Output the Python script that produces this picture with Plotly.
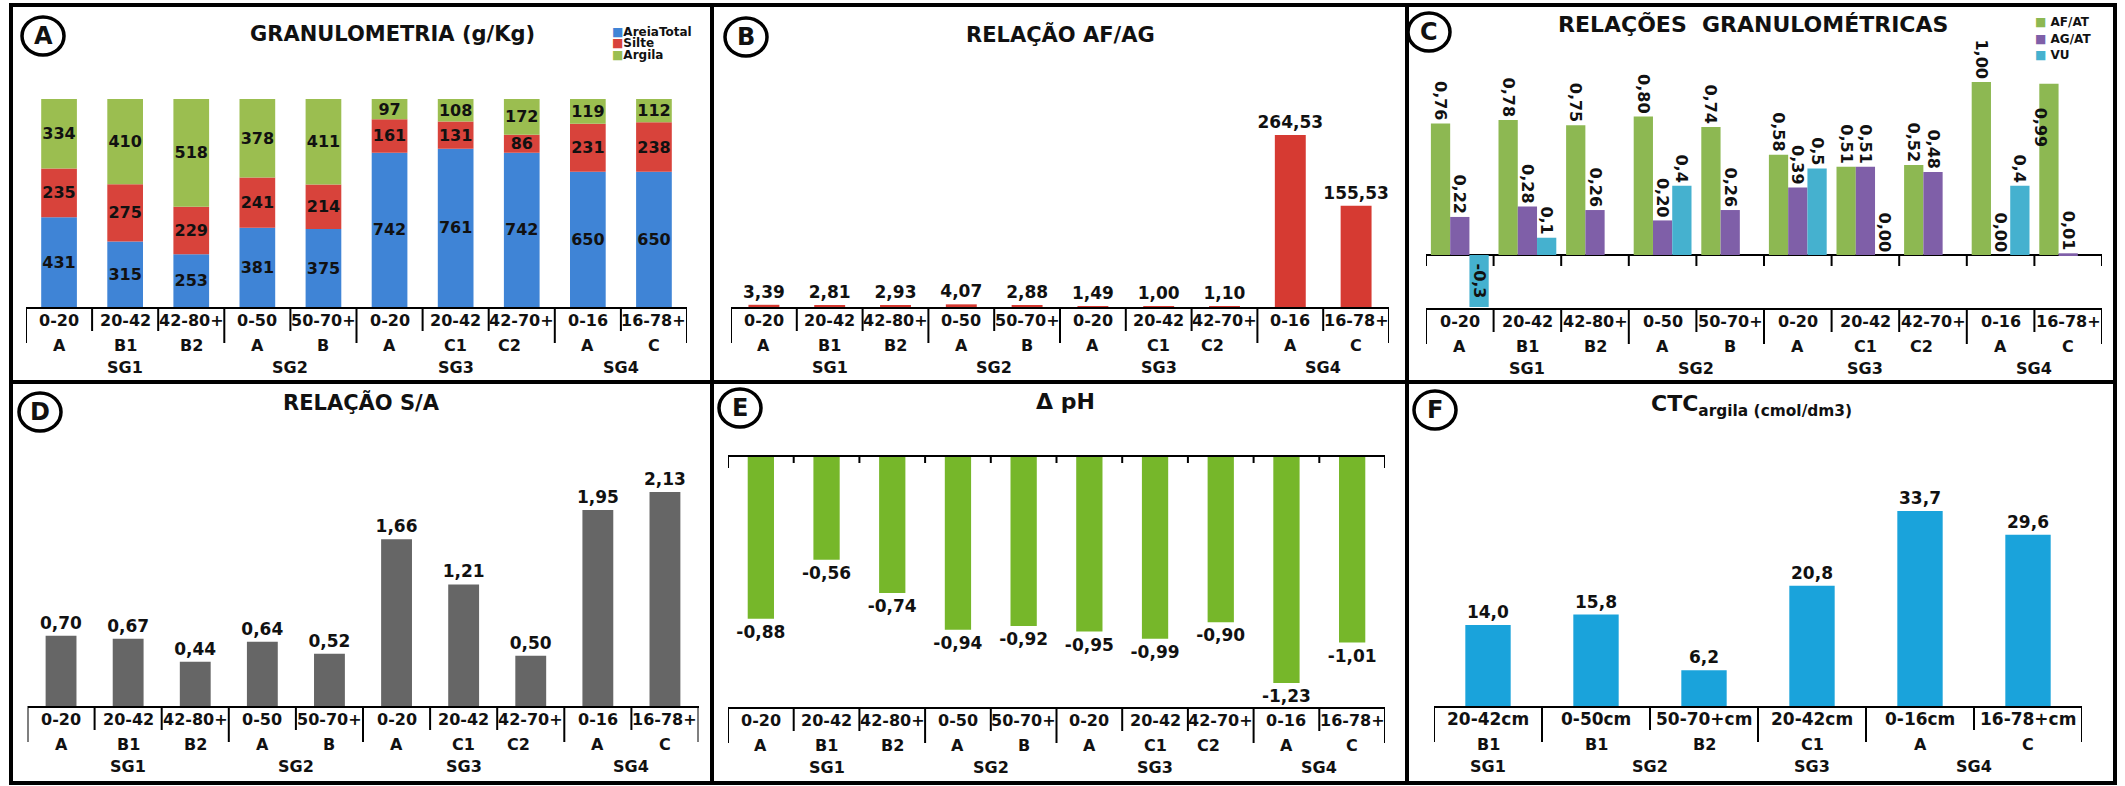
import plotly.graph_objects as go

W, H = 2125, 786
FONT = "DejaVu Sans"

# ---------------- data ----------------
depths = ["0-20", "20-42", "42-80+", "0-50", "50-70+", "0-20", "20-42", "42-70+", "0-16", "16-78+"]
horizons = ["A", "B1", "B2", "A", "B", "A", "C1", "C2", "A", "C"]
groups = ["SG1", "SG1", "SG1", "SG2", "SG2", "SG3", "SG3", "SG3", "SG4", "SG4"]

# A - granulometria (g/kg)
areia_total = [431, 315, 253, 381, 375, 742, 761, 742, 650, 650]
silte = [235, 275, 229, 241, 214, 161, 131, 86, 231, 238]
argila = [334, 410, 518, 378, 411, 97, 108, 172, 119, 112]

# B - relação AF/AG
af_ag = [3.39, 2.81, 2.93, 4.07, 2.88, 1.49, 1.00, 1.10, 264.53, 155.53]

# C - relações granulométricas
af_at = [0.76, 0.78, 0.75, 0.80, 0.74, 0.58, 0.51, 0.52, 1.00, 0.99]
ag_at = [0.22, 0.28, 0.26, 0.20, 0.26, 0.39, 0.51, 0.48, 0.00, 0.01]
vu = [-0.3, 0.1, None, 0.4, None, 0.5, 0.0, None, 0.4, None]
vu_labels = ["-0,3", "0,1", "", "0,4", "", "0,5", "0,00", "", "0,4", ""]

# D - relação S/A
silte_argila = [0.70, 0.67, 0.44, 0.64, 0.52, 1.66, 1.21, 0.50, 1.95, 2.13]

# E - delta pH
delta_ph = [-0.88, -0.56, -0.74, -0.94, -0.92, -0.95, -0.99, -0.90, -1.23, -1.01]

# F - CTC da argila
ctc_depths = ["20-42cm", "0-50cm", "50-70+cm", "20-42cm", "0-16cm", "16-78+cm"]
ctc_horizons = ["B1", "B1", "B2", "C1", "A", "C"]
ctc_groups = ["SG1", "SG2", "SG2", "SG3", "SG4", "SG4"]
ctc_argila = [14.0, 15.8, 6.2, 20.8, 33.7, 29.6]

# ---------------- colours ----------------
BLUE, RED, GREEN = "#3F84D6", "#D8433B", "#9BBE50"
RED_B = "#D63A32"
C_GREEN, C_PURPLE, C_CYAN = "#8DB852", "#7F5FA8", "#45B1CF"
GRAY = "#666666"
E_GREEN = "#76B72A"
F_CYAN = "#1AA3DB"


def px_x(p):
    return p / W


def px_y(p):
    return 1 - p / H


# panel geometry in page pixels: x span, y span (top, bottom) and value range
panels = {
    "A": dict(ax="", x=(26, 687), y=(80, 307), yr=(0, 1091.3), n=len(depths)),
    "B": dict(ax="2", x=(731, 1389), y=(80, 307), yr=(0, 349.1), n=len(depths)),
    "C": dict(ax="3", x=(1426, 2102), y=(70, 308), yr=(-0.306, 1.069), n=len(depths)),
    "D": dict(ax="4", x=(27.5, 698.5), y=(470, 706), yr=(0, 2.349), n=len(depths)),
    "E": dict(ax="5", x=(728, 1385), y=(457, 707), yr=(-1.361, 0), n=len(depths)),
    "F": dict(ax="6", x=(1434, 2082), y=(470, 706), yr=(0, 40.79), n=len(ctc_depths)),
}

fig = go.Figure()

bold = dict(family=FONT, color="#111111", weight="bold")


def bar(ax, x, y, color, width, **kw):
    opts = dict(
        x=x, y=y, width=width, marker=dict(color=color, line=dict(width=0)),
        xaxis="x" + ax, yaxis="y" + ax, showlegend=False, hoverinfo="skip",
        constraintext="none", cliponaxis=False,
        textfont=dict(bold, size=kw.pop("fontsize", 17)),
    )
    opts.update(kw)
    fig.add_trace(go.Bar(**opts))


idx = list(range(len(depths)))
cidx = list(range(len(ctc_depths)))

# A: stacked composition
base_silte = areia_total
base_argila = [a + s for a, s in zip(areia_total, silte)]
for vals, base, col in [(areia_total, None, BLUE), (silte, base_silte, RED), (argila, base_argila, GREEN)]:
    bar("", idx, vals, col, 0.54, base=base, texttemplate="%{y}", textposition="inside",
        insidetextanchor="middle", textangle=0, fontsize=16)

# B
bar("2", idx, af_ag, RED_B, 0.47, texttemplate="%{y:.2f}", textposition="outside", textangle=0)

# C: three series side by side
bw = 0.285
pos_af = ["outside"] * (len(af_at) - 1) + ["none"]
bar("3", idx, af_at, C_GREEN, bw, offset=-1.5 * bw, texttemplate="%{y:.2f}",
    textposition=pos_af, textangle=90, fontsize=16)
bar("3", idx, ag_at, C_PURPLE, bw, offset=-0.5 * bw, texttemplate="%{y:.2f}",
    textposition="outside", textangle=90, fontsize=16)
pos_vu = ["none" if v is None else ("inside" if v < 0 else "outside") for v in vu]
bar("3", idx, vu, C_CYAN, bw, offset=0.5 * bw, text=vu_labels, texttemplate="%{text}",
    textposition=pos_vu, insidetextanchor="middle", textangle=90, fontsize=16)

# D
bar("4", idx, silte_argila, GRAY, 0.46, texttemplate="%{y:.2f}", textposition="outside", textangle=0)

# E
bar("5", idx, delta_ph, E_GREEN, 0.40, texttemplate="%{y:.2f}", textposition="outside", textangle=0)

# F
bar("6", cidx, ctc_argila, F_CYAN, 0.42, texttemplate="%{y:.1f}", textposition="outside", textangle=0)

# ---------------- axes ----------------
layout_axes = {}
for key, p in panels.items():
    ax = p["ax"]
    layout_axes["xaxis" + ax] = dict(
        domain=[px_x(p["x"][0]), px_x(p["x"][1])], range=[-0.5, p["n"] - 0.5],
        anchor="y" + ax, showgrid=False, zeroline=False, showticklabels=False, ticks="",
        showline=True, linecolor="black", linewidth=2, mirror=(key == "E"), fixedrange=True,
    )
    layout_axes["yaxis" + ax] = dict(
        domain=[px_y(p["y"][1]), px_y(p["y"][0])], range=list(p["yr"]), anchor="x" + ax,
        showgrid=False, showticklabels=False, ticks="", showline=False,
        zeroline=(key == "C"), zerolinecolor="black", zerolinewidth=2, fixedrange=True,
    )

shapes = []
annotations = []

ROW1, ROW2, ROW3 = 13, 38, 60
SHORT, LONG = 24, 36


def category_table(key, cats, hors, grps, row1_size=16, shift=None):
    p = panels[key]
    ax = p["ax"]
    top = p["y"][1]
    n = len(cats)
    for i in range(n + 1):
        edge = i == 0 or i == n or grps[i] != grps[i - 1]
        ln = LONG if edge else SHORT
        shapes.append(dict(type="line", xref="x" + ax, yref="paper", x0=i - 0.5, x1=i - 0.5,
                           y0=px_y(top), y1=px_y(top + ln), line=dict(color="black", width=2)))
    for i in range(n):
        annotations.append(dict(xref="x" + ax, yref="paper", x=i, y=px_y(top + ROW1),
                                text=cats[i], showarrow=False, yanchor="middle",
                                font=dict(bold, size=row1_size)))
        xs = (shift or {}).get(hors[i] + str(i), 0)
        annotations.append(dict(xref="x" + ax, yref="paper", x=i, y=px_y(top + ROW2),
                                text=hors[i], showarrow=False, yanchor="middle", xshift=xs,
                                font=dict(bold, size=16)))
    seen = []
    for g in grps:
        if g not in seen:
            seen.append(g)
    for g in seen:
        members = [i for i, v in enumerate(grps) if v == g]
        annotations.append(dict(xref="x" + ax, yref="paper", x=sum(members) / len(members),
                                y=px_y(top + ROW3), text=g, showarrow=False, yanchor="middle",
                                font=dict(bold, size=16)))


c2_shift = {"C27": -12}
for k in ["A", "B", "C", "D", "E"]:
    category_table(k, depths, horizons, groups, shift=c2_shift)
category_table("F", ctc_depths, ctc_horizons, ctc_groups, row1_size=17)

# tick marks on the zero line of C and on the top line of E
for i in range(len(depths) + 1):
    shapes.append(dict(type="line", xref="x3", yref="y3", ysizemode="pixel", yanchor=0,
                       x0=i - 0.5, x1=i - 0.5, y0=0, y1=-11, line=dict(color="black", width=2)))
    end = i in (0, len(depths))
    shapes.append(dict(type="line", xref="x5", yref="y5", ysizemode="pixel", yanchor=0,
                       x0=i - 0.5, x1=i - 0.5, y0=3, y1=-11 if end else -6,
                       line=dict(color="black", width=2)))

# label of the last AF/AT bar, set beside it
annotations.append(dict(xref="x3", yref="y3", x=len(af_at) - 1 - 0.41, y=af_at[-1],
                        text="0,99", textangle=90, showarrow=False, xanchor="center",
                        yanchor="top", yshift=-22, font=dict(bold, size=16)))

# titles
titles = [
    ("GRANULOMETRIA (g/Kg)", 392, 34, 21),
    ("RELAÇÃO AF/AG", 1060, 34, 21),
    ("RELAÇÕES  GRANULOMÉTRICAS", 1753, 24, 22),
    ("RELAÇÃO S/A", 361, 403, 21),
    ("Δ pH", 1065, 402, 22),
    ("CTC<sub>argila (cmol/dm3)</sub>", 1751, 405, 22),
]
for txt, cx, cy, size in titles:
    annotations.append(dict(xref="paper", yref="paper", x=px_x(cx), y=px_y(cy), text=txt,
                            showarrow=False, xanchor="center", yanchor="middle",
                            font=dict(bold, size=size)))

# legends
legend_a = [("AreiaTotal", BLUE), ("Silte", RED), ("Argila", GREEN)]
for j, (name, col) in enumerate(legend_a):
    annotations.append(dict(xref="paper", yref="paper", x=px_x(610), y=px_y(32 + 11.5 * j),
                            text=f"<span style='color:{col}'>■</span>{name}", showarrow=False,
                            xanchor="left", yanchor="middle", font=dict(bold, size=12)))
legend_c = [("AF/AT", C_GREEN), ("AG/AT", C_PURPLE), ("VU", C_CYAN)]
for j, (name, col) in enumerate(legend_c):
    annotations.append(dict(xref="paper", yref="paper", x=px_x(2033), y=px_y(22 + 16.5 * j),
                            text=f"<span style='color:{col}'>■</span> {name}", showarrow=False,
                            xanchor="left", yanchor="middle", font=dict(bold, size=12)))

# panel badges
badges = [("A", 43, 36), ("B", 746, 37), ("C", 1429, 32), ("D", 40, 412), ("E", 740, 408), ("F", 1435, 410)]
for letter, cx, cy in badges:
    shapes.append(dict(type="circle", xref="paper", yref="paper",
                       x0=px_x(cx - 21), x1=px_x(cx + 21), y0=px_y(cy + 19), y1=px_y(cy - 19),
                       line=dict(color="black", width=3.5)))
    annotations.append(dict(xref="paper", yref="paper", x=px_x(cx), y=px_y(cy), text=letter,
                            showarrow=False, xanchor="center", yanchor="middle",
                            font=dict(bold, size=24)))

# frame and panel separators
frame = dict(color="black", width=4)
shapes.append(dict(type="rect", xref="paper", yref="paper", x0=px_x(11), x1=px_x(2115),
                   y0=px_y(783), y1=px_y(5), line=frame))
for xv in (712, 1407):
    shapes.append(dict(type="line", xref="paper", yref="paper", x0=px_x(xv), x1=px_x(xv),
                       y0=px_y(783), y1=px_y(5), line=frame))
shapes.append(dict(type="line", xref="paper", yref="paper", x0=px_x(11), x1=px_x(2115),
                   y0=px_y(382), y1=px_y(382), line=frame))

fig.update_layout(
    width=W, height=H, autosize=False,
    margin=dict(l=0, r=0, t=0, b=0, pad=0),
    paper_bgcolor="white", plot_bgcolor="rgba(0,0,0,0)",
    barmode="overlay", separators=",.",
    font=dict(family=FONT, color="#111111"),
    shapes=shapes, annotations=annotations, showlegend=False,
    **layout_axes,
)

fig.write_html("out.html", config=dict(displayModeBar=False))
